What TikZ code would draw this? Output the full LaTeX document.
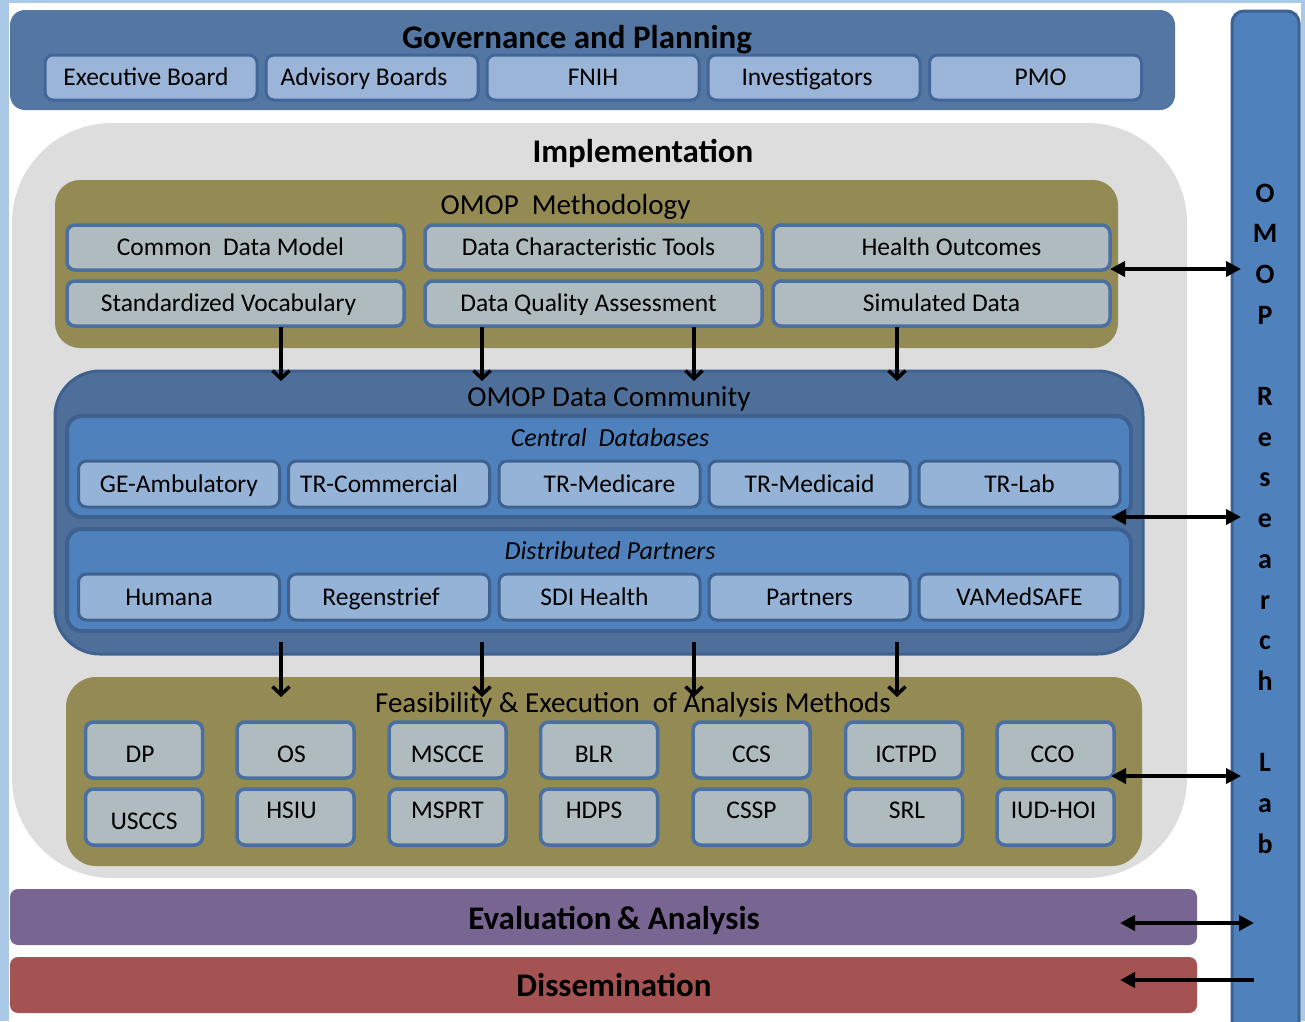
\documentclass[tikz,border=0pt]{standalone}
\usepackage{fontspec}
\setmainfont{Carlito}
\usetikzlibrary{arrows.meta}
\definecolor{framec}{HTML}{A9C9E6}
\definecolor{govfill}{HTML}{5377A2}
\definecolor{govitem}{HTML}{9AB5D8}
\definecolor{govline}{HTML}{41669A}
\definecolor{implc}{HTML}{DDDDDD}
\definecolor{olive}{HTML}{948A54}
\definecolor{methitem}{HTML}{B0BBBF}
\definecolor{methline}{HTML}{4A6FA2}
\definecolor{dcfill}{HTML}{4E6F99}
\definecolor{dcline}{HTML}{3E6190}
\definecolor{innerc}{HTML}{4F81BD}
\definecolor{dbitem}{HTML}{95B3D7}
\definecolor{evalc}{HTML}{786592}
\definecolor{dissc}{HTML}{A55252}
\definecolor{labline}{HTML}{3B6293}
\begin{document}
\begin{tikzpicture}[x=1pt,y=-1pt,
  ttl/.style={anchor=base, inner sep=0pt, font=\bfseries\fontsize{33}{36}\selectfont},
  subttl/.style={anchor=base, inner sep=0pt, font=\fontsize{29}{32}\selectfont},
  itl/.style={anchor=base, inner sep=0pt, font=\itshape\fontsize{26}{30}\selectfont},
  labch/.style={anchor=base, inner sep=0pt, font=\bfseries\fontsize{28}{30}\selectfont},
  panel/.style={inner sep=0pt, outer sep=0pt},
  itembox/.style={rounded corners=8pt, line width=3pt, inner sep=0pt, outer sep=0pt,
     font=\fontsize{25.5}{30}\selectfont, text height=16.4pt, text depth=0pt},
  govbox/.style={itembox, fill=govitem, draw=govline, minimum width=212, minimum height=45},
  methbox/.style={itembox, fill=methitem, draw=methline, line width=3.5pt, minimum width=337, minimum height=45},
  dbbox/.style={itembox, fill=dbitem, draw=dcline, minimum width=201, minimum height=46},
  anbox/.style={itembox, fill=methitem, draw=methline, line width=3.5pt, minimum width=117, minimum height=56},
  rowa/.style={text height=24.4pt},
  rowb/.style={text depth=14pt},
  dn/.style={line width=3.5pt, -{Straight Barb[length=8pt,width=17pt]}},
  bi/.style={line width=4pt, {Triangle[length=15pt,width=15pt]}-{Triangle[length=15pt,width=15pt]}},
  lf/.style={line width=4pt, -{Triangle[length=15pt,width=15pt]}}
]
\useasboundingbox (0,0) rectangle (1305,1021);
\fill[framec] (0,0) rectangle (1305,1021);
\fill[white] (9,3) rectangle (1301,1021);

% Research lab bar
\node[panel, fill=innerc, draw=labline, line width=3pt, rounded corners=12pt,
  minimum width=67, minimum height=1030] (lab) at (1265.5,526) {};
\foreach \i/\ch in {0/O,1/M,2/O,3/P,5/R,6/e,7/s,8/e,9/a,10/r,11/c,12/h,14/L,15/a,16/b}
  \node[labch] (lab\i) at (1265,{202+40.7*\i}) {\ch};

% Governance
\node[panel, fill=govfill, rounded corners=15pt, minimum width=1165, minimum height=100] (gov) at (592.5,60) {};
\node[ttl] (govt) at (577,48) {Governance and Planning};
\node[govbox] (g1) at (151,77.5) {Executive Board\hspace*{10pt}};
\node[govbox] (g2) at (372,77.5) {Advisory Boards\hspace*{16pt}};
\node[govbox] (g3) at (593,77.5) {FNIH};
\node[govbox] (g4) at (814,77.5) {Investigators\hspace*{14pt}};
\node[govbox] (g5) at (1035.5,77.5) {\hspace*{10pt}PMO};

% Implementation
\node[panel, fill=implc, rounded corners=100pt, minimum width=1175, minimum height=755] (impl) at (599.5,500.5) {};
\node[ttl] (implt) at (643,162.5) {Implementation};

% Methodology
\node[panel, fill=olive, rounded corners=25pt, minimum width=1063, minimum height=168] (meth) at (586.5,264) {};
\node[subttl] (metht) at (565.5,214) {OMOP\ \ Methodology};
\node[methbox] (m1) at (235.5,247.5) {Common\ \ Data Model\hspace*{10pt}};
\node[methbox] (m2) at (593.5,247.5) {Data Characteristic Tools\hspace*{10pt}};
\node[methbox] (m3) at (941.5,247.5) {\hspace*{20pt}Health Outcomes};
\node[methbox] (m4) at (235.5,303.5) {Standardized Vocabulary\hspace*{14pt}};
\node[methbox] (m5) at (593.5,303.5) {Data Quality Assessment\hspace*{10pt}};
\node[methbox] (m6) at (941.5,303.5) {Simulated Data};

% Data community
\node[panel, fill=dcfill, draw=dcline, line width=3pt, rounded corners=45pt, minimum width=1088, minimum height=283] (dc) at (599,512.5) {};
\node[subttl] (dct) at (609,406) {OMOP Data Community};
\node[panel, fill=innerc, draw=dcline, line width=4pt, rounded corners=15pt, minimum width=1064, minimum height=101] (cdb) at (599,466.5) {};
\node[itl] (cdbt) at (610,446) {Central\ \ Databases};
\node[panel, fill=innerc, draw=dcline, line width=4pt, rounded corners=15pt, minimum width=1064, minimum height=102] (dpt) at (599,580) {};
\node[itl] (dptt) at (610,559) {Distributed Partners};
\node[dbbox] (d1) at (179,484) {GE-Ambulatory};
\node[dbbox] (d2) at (389,484) {TR-Commercial\hspace*{20pt}};
\node[dbbox] (d3) at (599.5,484) {\hspace*{20pt}TR-Medicare};
\node[dbbox] (d4) at (809.5,484) {TR-Medicaid};
\node[dbbox] (d5) at (1019.5,484) {TR-Lab};
\node[dbbox] (p1) at (179,597) {Humana\hspace*{20pt}};
\node[dbbox] (p2) at (389,597) {Regenstrief\hspace*{16pt}};
\node[dbbox] (p3) at (599.5,597) {SDI Health\hspace*{10pt}};
\node[dbbox] (p4) at (809.5,597) {Partners};
\node[dbbox] (p5) at (1019.5,597) {VAMedSAFE};

% Feasibility
\node[panel, fill=olive, rounded corners=30pt, minimum width=1076, minimum height=189] (feas) at (604,771.5) {};
\node[subttl] (feast) at (633,712) {Feasibility \& Execution\ \ of Analysis Methods};
\node[anbox, rowa] (a1) at (144,750) {DP\hspace*{8pt}};
\node[anbox, rowa] (a2) at (295.5,750) {OS\hspace*{8pt}};
\node[anbox, rowa] (a3) at (447.5,750) {MSCCE};
\node[anbox, rowa] (a4) at (599,750) {BLR\hspace*{10pt}};
\node[anbox, rowa] (a5) at (751.5,750) {CCS};
\node[anbox, rowa] (a6) at (904,750) {\hspace*{4pt}ICTPD};
\node[anbox, rowa] (a7) at (1055.5,750) {CCO\hspace*{6pt}};
\node[anbox, rowa] (b1) at (144,817) {USCCS};
\node[anbox, rowb] (b2) at (295.5,817) {HSIU\hspace*{8pt}};
\node[anbox, rowb] (b3) at (447.5,817) {MSPRT};
\node[anbox, rowb] (b4) at (599,817) {HDPS\hspace*{10pt}};
\node[anbox, rowb] (b5) at (751.5,817) {CSSP};
\node[anbox, rowb] (b6) at (904,817) {\hspace*{6pt}SRL};
\node[anbox, rowb] (b7) at (1055.5,817) {IUD-HOI\hspace*{4pt}};

% Evaluation and dissemination
\node[panel, fill=evalc, rounded corners=8pt, minimum width=1187, minimum height=56] (eval) at (603.5,917) {};
\node[ttl] (evalt) at (614,929) {Evaluation\,\& Analysis};
\node[panel, fill=dissc, rounded corners=8pt, minimum width=1187, minimum height=56] (diss) at (603.5,985) {};
\node[ttl] (disst) at (614,996) {Dissemination};

% connector end points
\foreach \k/\x in {1/281,2/482,3/694,4/897} {
  \coordinate (ms\k) at (\x,327);
  \coordinate (ce\k) at (\x,381);
  \coordinate (cs\k) at (\x,642);
  \coordinate (fe\k) at (\x,697);
}
\coordinate (l1) at (1241,269);
\coordinate (l2) at (1241,517);
\coordinate (l3) at (1241,776);
\coordinate (l4) at (1254,923);
\coordinate (l5) at (1254,980);
\coordinate (r1) at (1110,269);
\coordinate (r2) at (1111,517);
\coordinate (r3) at (1111,776);
\coordinate (r4) at (1120,923);
\coordinate (r5) at (1120,980);

\foreach \k in {1,2,3,4} {
  \draw[dn] (ms\k) -- (ce\k);
  \draw[dn] (cs\k) -- (fe\k);
}
\draw[bi] (r1) -- (l1);
\draw[bi] (r2) -- (l2);
\draw[bi] (r3) -- (l3);
\draw[bi] (r4) -- (l4);
\draw[lf] (l5) -- (r5);
\end{tikzpicture}
\end{document}
